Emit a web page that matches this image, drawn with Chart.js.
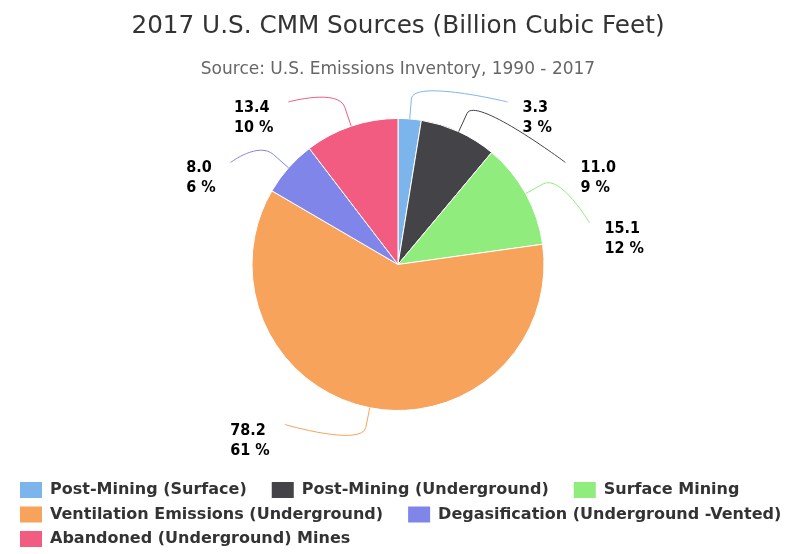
<!DOCTYPE html>
<html>
<head>
<meta charset="utf-8">
<script src="https://cdn.jsdelivr.net/npm/chart.js@4.4.1/dist/chart.umd.min.js"></script>
<style>
  html, body { margin: 0; padding: 0; background: #ffffff; }
  canvas { display: block; }
</style>
</head>
<body>
<canvas id="cmm" width="791" height="554" style="width:791px;height:554px"></canvas>
<script>
// Coal mine methane sources, 2017 (billion cubic feet)
const sources = [
  'Post-Mining (Surface)',
  'Post-Mining (Underground)',
  'Surface Mining',
  'Ventilation Emissions (Underground)',
  'Degasification (Underground -Vented)',
  'Abandoned (Underground) Mines'
];
const volumes = [3.3, 11.0, 15.1, 78.2, 8.0, 13.4];
const sliceColors = ['#7cb5ec', '#434348', '#90ed7d', '#f7a35c', '#8085e9', '#f15c80'];
const titleText = '2017 U.S. CMM Sources (Billion Cubic Feet)';
const subtitleText = 'Source: U.S. Emissions Inventory, 1990 - 2017';

const BASE_FONT = "'DejaVu Sans', sans-serif";
const LABEL_FONT = "bold 16px 'DejaVu Sans Condensed', 'DejaVu Sans', sans-serif";
const LEGEND_FONT = "bold 16px 'DejaVu Sans', sans-serif";

// Two-line value / percentage labels with soft elbow connectors
const pieLabels = {
  id: 'pieLabels',
  afterDatasetsDraw(chart) {
    const meta = chart.getDatasetMeta(0);
    const arcs = meta.data;
    if (!arcs.length) return;
    const data = chart.data.datasets[0].data;
    const colors = chart.data.datasets[0].backgroundColor;
    const total = data.reduce((a, b) => a + b, 0);
    const ctx = chart.ctx;
    const cx = arcs[0].x, cy = arcs[0].y, r = arcs[0].outerRadius;
    const R = r + 50, brk = r + 20, gap = 60.5;
    const top = cy - r - 16.5, bottom = cy + r + 14;

    const items = arcs.map((a, i) => {
      const mid = (a.startAngle + a.endAngle) / 2;
      const c = Math.cos(mid), s = Math.sin(mid);
      return { i, cos: c, sin: s, y: cy + s * R, right: c >= 0 };
    });

    // keep labels on each side apart and inside the vertical bounds
    [true, false].forEach(side => {
      const list = items.filter(it => it.right === side).sort((a, b) => a.y - b.y);
      let prev = -Infinity;
      list.forEach(it => { it.y = Math.max(it.y, top, prev + gap); prev = it.y; });
      let next = Infinity;
      for (let k = list.length - 1; k >= 0; k--) {
        const it = list[k];
        it.y = Math.min(it.y, bottom, next - gap);
        next = it.y;
      }
    });

    ctx.save();
    items.forEach(it => {
      const dy = it.y - cy;
      const dx = Math.sqrt(Math.max(R * R - dy * dy, 0));
      const lx = it.right ? cx + dx : cx - dx;
      const tx = cx + it.cos * r, ty = cy + it.sin * r;
      const bx = cx + it.cos * brk, by = cy + it.sin * brk;

      ctx.beginPath();
      ctx.moveTo(lx, it.y);
      ctx.bezierCurveTo(lx, it.y, 2 * bx - tx, 2 * by - ty, bx, by);
      ctx.lineTo(tx, ty);
      ctx.strokeStyle = colors[it.i];
      ctx.lineWidth = 1;
      ctx.stroke();

      const v = data[it.i];
      const lines = [v.toFixed(1), Math.round(v / total * 100) + ' %'];
      ctx.font = LABEL_FONT;
      ctx.fillStyle = '#000000';
      ctx.textAlign = 'left';
      ctx.textBaseline = 'alphabetic';
      const w = Math.max(...lines.map(t => ctx.measureText(t).width));
      const x0 = it.right ? lx + 15 : lx - 15 - w;
      lines.forEach((t, k) => ctx.fillText(t, x0, it.y + 10 + k * 20));
    });
    ctx.restore();
  }
};

// Left-aligned, wrapping legend under the pie
const legendBlock = {
  id: 'legendBlock',
  afterDraw(chart) {
    const ctx = chart.ctx;
    const colors = chart.data.datasets[0].backgroundColor;
    const boxW = 22, boxH = 16, textGap = 30, itemGap = 25, left = 20, rowH = 24.5;
    let x = left;
    let y = chart.chartArea.bottom + 79;
    ctx.save();
    ctx.font = LEGEND_FONT;
    ctx.textAlign = 'left';
    ctx.textBaseline = 'middle';
    chart.data.labels.forEach((lab, i) => {
      const w = textGap + ctx.measureText(lab).width;
      if (x > left && x + w > chart.width) { x = left; y += rowH; }
      ctx.fillStyle = colors[i];
      ctx.fillRect(x, y - boxH / 2, boxW, boxH);
      ctx.fillStyle = '#333333';
      ctx.fillText(lab, x + textGap, y);
      x += w + itemGap;
    });
    ctx.restore();
  }
};

new Chart(document.getElementById('cmm'), {
  type: 'pie',
  data: {
    labels: sources,
    datasets: [{
      data: volumes,
      backgroundColor: sliceColors,
      borderColor: '#ffffff',
      borderWidth: 1
    }]
  },
  options: {
    responsive: false,
    animation: false,
    devicePixelRatio: 1,
    events: [],
    layout: { padding: { left: 5, right: 0, top: 0, bottom: 143 } },
    plugins: {
      legend: { display: false },
      tooltip: { enabled: false },
      title: {
        display: true,
        text: titleText,
        color: '#333333',
        font: { family: BASE_FONT, size: 24.7, weight: 'normal' },
        padding: { top: 11.7, bottom: 0 }
      },
      subtitle: {
        display: true,
        text: subtitleText,
        color: '#666666',
        font: { family: BASE_FONT, size: 17, weight: 'normal' },
        padding: { top: 18.5, bottom: 37.7 }
      }
    }
  },
  plugins: [pieLabels, legendBlock]
});
</script>
</body>
</html>
